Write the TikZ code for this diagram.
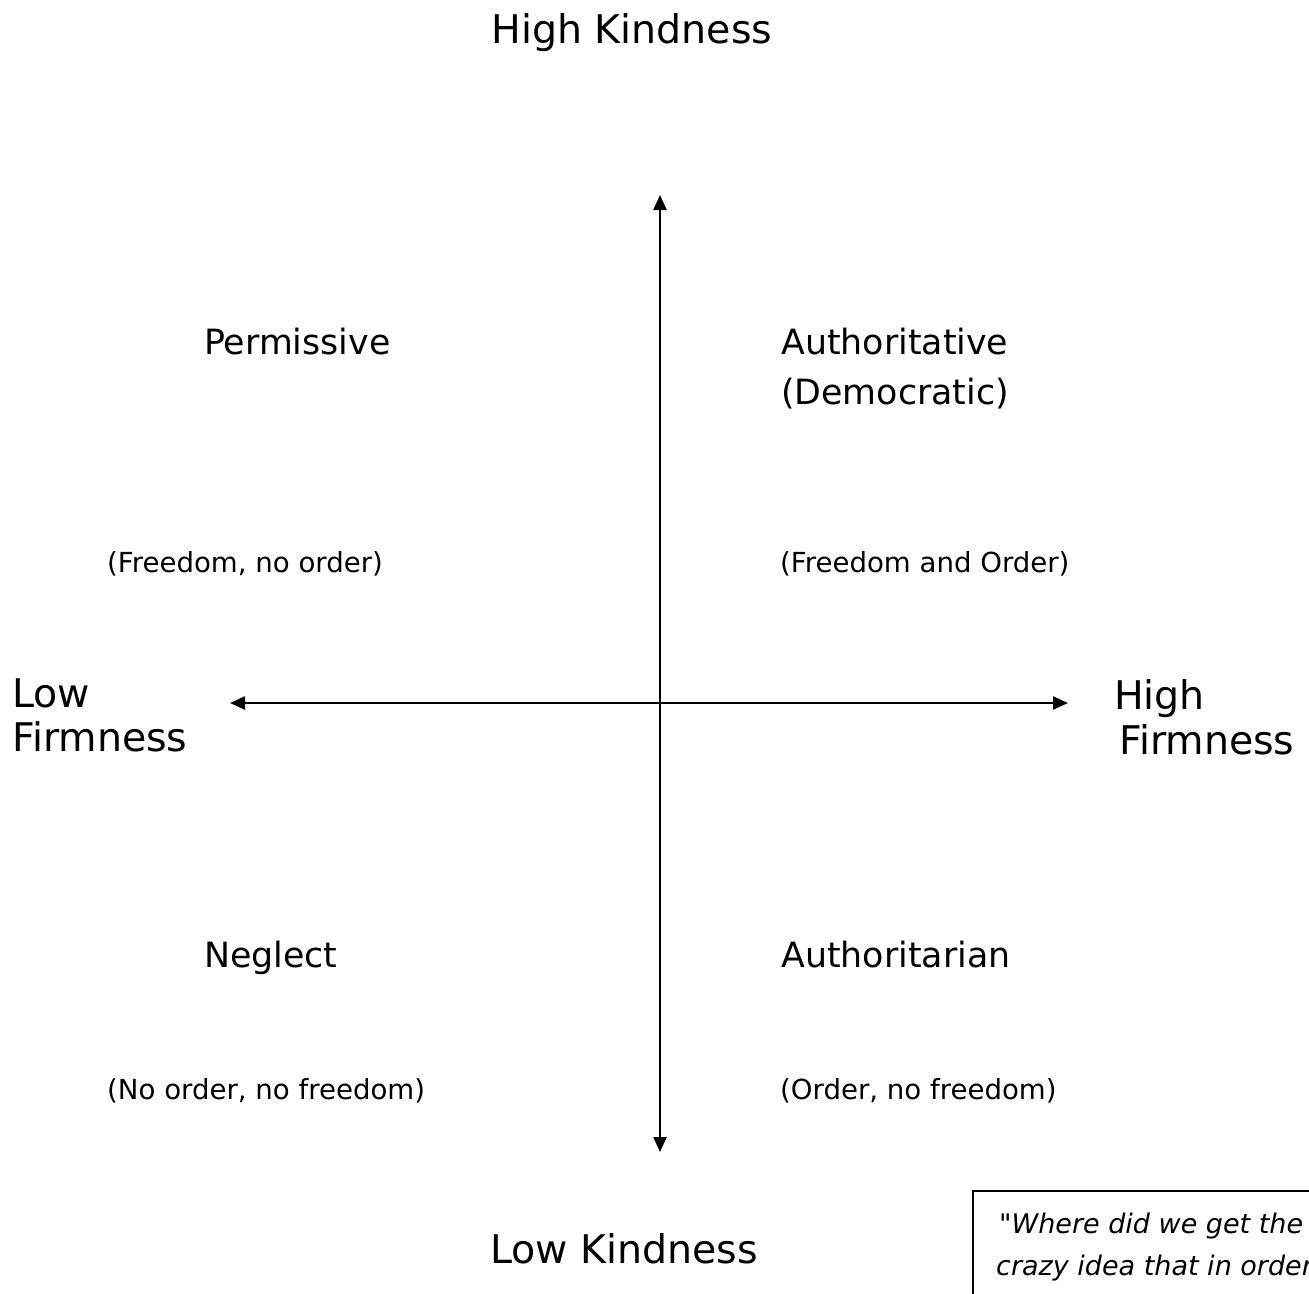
\documentclass[tikz,border=0pt]{standalone}
\usepackage{fontspec}
\setmainfont{DejaVu Sans}
\newfontfamily\qfont{DejaVu Sans}[ItalicFont={DejaVu Sans Oblique}]
\usetikzlibrary{arrows.meta}
\tikzset{
  big/.style={inner sep=0pt, font=\fontsize{39.5}{44}\selectfont},
  mid/.style={inner sep=0pt, font=\fontsize{34.8}{52}\selectfont},
  small/.style={inner sep=0pt, font=\fontsize{27.6}{32}\selectfont},
  quoteline/.style={inner sep=0pt, anchor=base west, font=\qfont\fontsize{27}{42}\selectfont\itshape},
  axis/.style={line width=2.4pt, {Triangle[length=15pt,width=13pt]}-{Triangle[length=15pt,width=13pt]}},
  quotebox/.style={draw, line width=2pt}
}
\begin{document}
\begin{tikzpicture}[x=1pt,y=-1pt]
\useasboundingbox (0,0) rectangle (1309,1293);
\clip (0,0) rectangle (1309,1293);
% axis end points
\coordinate (top) at (660,195);
\coordinate (bot) at (660,1152);
\coordinate (lft) at (230,703);
\coordinate (rgt) at (1068,703);
\draw[axis] (bot) -- (top);
\draw[axis] (lft) -- (rgt);
% axis labels
\node[big, anchor=base] (hk) at (632,43) {High Kindness};
\node[big, anchor=base] (lk) at (624,1263) {Low Kindness};
\node[big, anchor=base west] (lf1) at (12,707) {Low};
\node[big, anchor=base west] (lf2) at (12,751) {Firmness};
\node[big, anchor=base west] (hf1) at (1114,709) {High};
\node[big, anchor=base west] (hf2) at (1119,754) {Firmness};
% quadrant labels
\node[mid, anchor=base west] (perm) at (204,354) {Permissive};
\node[small, anchor=base west] (permd) at (107,572) {(Freedom, no order)};
\node[mid, anchor=base west] (auth) at (781,354) {Authoritative};
\node[mid, anchor=base west] (dem) at (781,404) {(Democratic)};
\node[small, anchor=base west] (authd) at (780,572) {(Freedom and Order)};
\node[mid, anchor=base west] (negl) at (204,967) {Neglect};
\node[small, anchor=base west] (negld) at (107,1099) {(No order, no freedom)};
\node[mid, anchor=base west] (autn) at (781,967) {Authoritarian};
\node[small, anchor=base west] (autnd) at (780,1099) {(Order, no freedom)};
% quote box
\draw[quotebox] (973,1191) rectangle (1330,1340);
\node[quoteline] (q1) at (999,1233) {"Where did we get the};
\node[quoteline] (q2) at (996,1275) {crazy idea that in order};
\node[quoteline] (q3) at (996,1317) {to make children do better,};
\end{tikzpicture}
\end{document}
